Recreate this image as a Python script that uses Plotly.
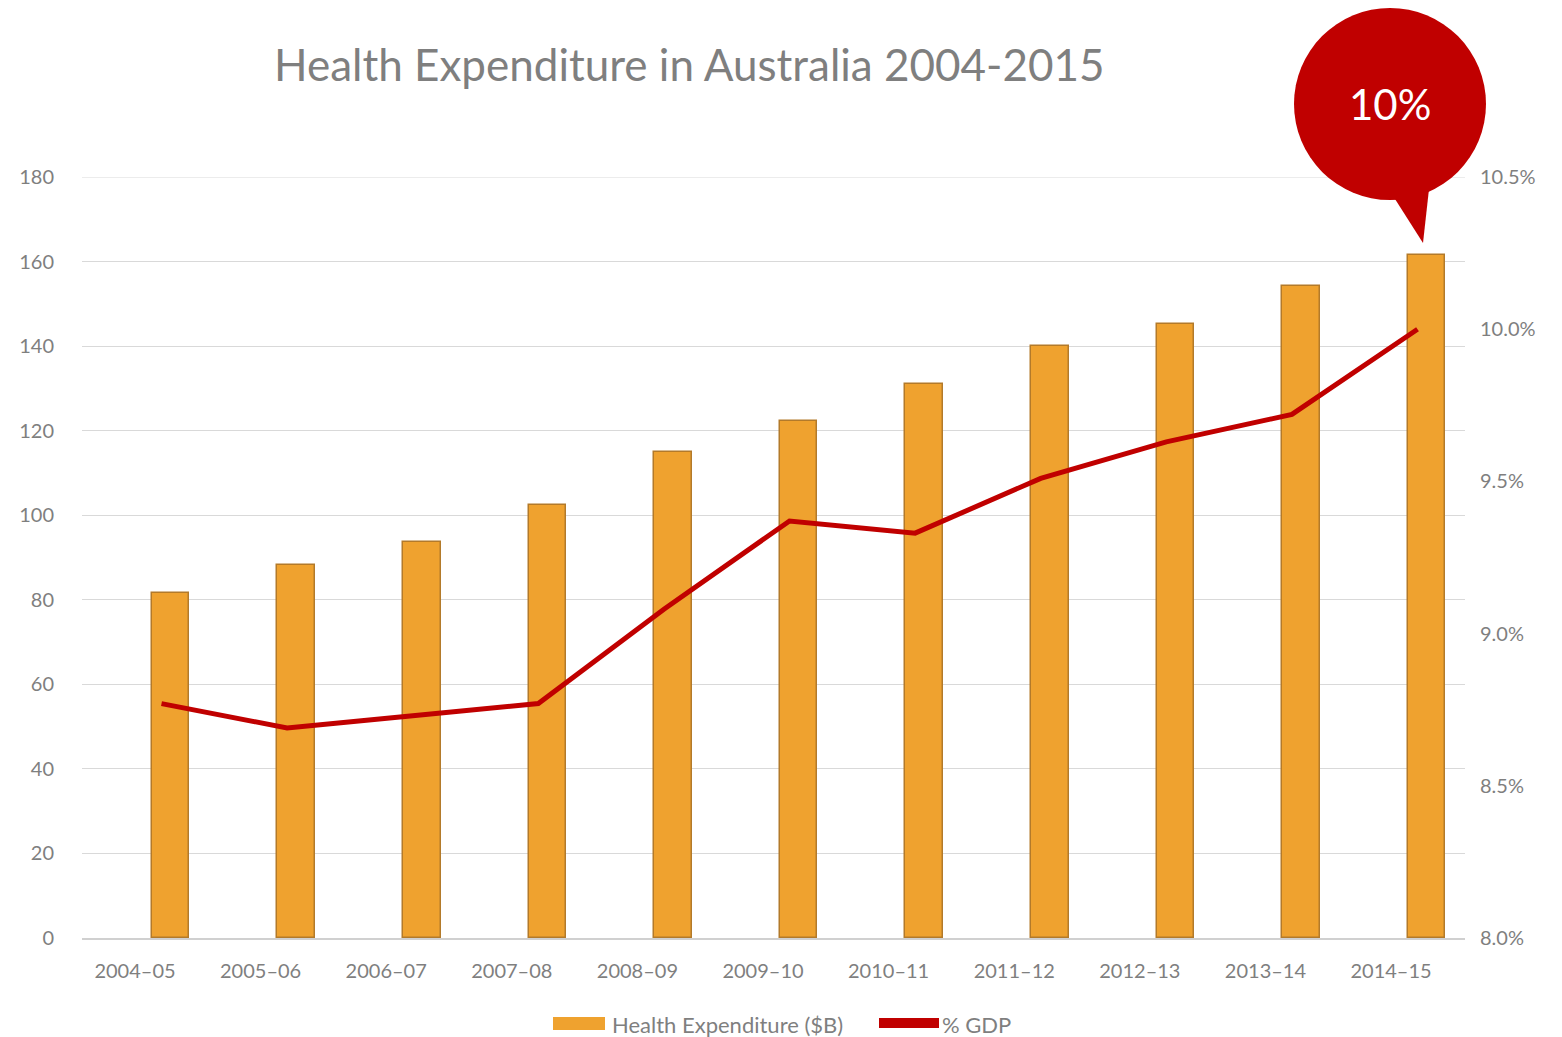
import plotly.graph_objects as go

categories = ["2004–05", "2005–06", "2006–07", "2007–08", "2008–09", "2009–10",
              "2010–11", "2011–12", "2012–13", "2013–14", "2014–15"]
health_exp_b = [81.6, 88.2, 93.7, 102.5, 115.0, 122.2, 131.1, 140.0, 145.3, 154.3, 161.5]
pct_gdp = [8.77, 8.69, 8.73, 8.77, 9.08, 9.37, 9.33, 9.51, 9.63, 9.72, 10.00]
left_ticks = [0, 20, 40, 60, 80, 100, 120, 140, 160, 180]
right_ticks = [8.0, 8.5, 9.0, 9.5, 10.0, 10.5]
title_text = "Health Expenditure in Australia 2004-2015"
callout_text = "10%"

W, H = 1562, 1037
ML, MR, MT, MB = 82, 97, 177, 99
PW, PH = W - ML - MR, H - MT - MB

def fx(px):
    return (px - ML) / PW

def fy(py):
    return (H - MB - py) / PH

FONT = "Lato, 'Open Sans', sans-serif"
GRAY = "#7f7f7f"
GRID = "#d9d9d9"
ORANGE = "#EFA22F"
ORANGE_EDGE = "#B37A2A"
RED = "#C00000"

idx = list(range(len(categories)))
bar_x = [i + 0.283 for i in idx]
line_x = [i + 0.211 for i in idx]

fig = go.Figure()
fig.add_trace(go.Bar(
    x=bar_x, y=health_exp_b, width=0.30, name="Health Expenditure ($B)",
    marker=dict(color=ORANGE, line=dict(color=ORANGE_EDGE, width=1.5)),
    showlegend=False,
))
fig.add_trace(go.Scatter(
    x=line_x, y=pct_gdp, mode="lines", name="% GDP", yaxis="y2",
    line=dict(color=RED, width=5), showlegend=False,
))

fig.update_layout(
    width=W, height=H,
    margin=dict(l=ML, r=MR, t=MT, b=MB, pad=0),
    paper_bgcolor="white", plot_bgcolor="white",
    font=dict(family=FONT, color=GRAY, size=20),
    xaxis=dict(
        range=[-0.422, 10.589], tickmode="array", tickvals=idx, ticktext=categories,
        showgrid=False, zeroline=False, showline=True, linecolor="#d0d0d0", linewidth=2,
        ticks="", ticklabelstandoff=14, tickfont=dict(size=20, color=GRAY),
    ),
    yaxis=dict(
        range=[0, 180], tickmode="array", tickvals=left_ticks,
        showgrid=True, gridcolor=GRID, gridwidth=1, zeroline=False,
        showline=False, ticks="", ticklabelstandoff=27, tickfont=dict(size=20, color=GRAY),
    ),
    yaxis2=dict(
        range=[8.0, 10.5], overlaying="y", side="right", tickmode="array",
        tickvals=right_ticks, ticktext=[f"{v:.1f}%" for v in right_ticks],
        showgrid=False, zeroline=False, showline=False, ticks="",
        ticklabelstandoff=14, tickfont=dict(size=20, color=GRAY),
    ),
    bargap=0,
)

shapes = []
annotations = []

# Top gridline (at the edge of the plot area)
shapes.append(dict(
    type="line", xref="paper", yref="y", x0=0, x1=1, y0=left_ticks[-1], y1=left_ticks[-1],
    line=dict(color=GRID, width=1), layer="below",
))

# Title
annotations.append(dict(
    text=title_text, xref="paper", yref="paper", x=fx(689), y=fy(64),
    xanchor="center", yanchor="middle", showarrow=False,
    font=dict(size=44, color=GRAY, family=FONT),
))

# Callout bubble
shapes.append(dict(
    type="circle", xref="paper", yref="paper",
    x0=fx(1294), x1=fx(1486), y0=fy(200), y1=fy(8),
    fillcolor=RED, line=dict(width=0), layer="above",
))
tail = (f"M {fx(1388)},{fy(188)} L {fx(1423)},{fy(243)} "
        f"L {fx(1430)},{fy(180)} Z")
shapes.append(dict(
    type="path", xref="paper", yref="paper", path=tail,
    fillcolor=RED, line=dict(width=0), layer="above",
))
annotations.append(dict(
    text=callout_text, xref="paper", yref="paper", x=fx(1390), y=fy(104),
    xanchor="center", yanchor="middle", showarrow=False,
    font=dict(size=42, color="white", family=FONT),
))

# Custom legend
shapes.append(dict(
    type="rect", xref="paper", yref="paper",
    x0=fx(553), x1=fx(605), y0=fy(1030), y1=fy(1017),
    fillcolor=ORANGE, line=dict(width=0),
))
annotations.append(dict(
    text="Health Expenditure ($B)", xref="paper", yref="paper", x=fx(610), y=fy(1024),
    xanchor="left", yanchor="middle", showarrow=False,
    font=dict(size=22, color=GRAY, family=FONT),
))
shapes.append(dict(
    type="rect", xref="paper", yref="paper",
    x0=fx(879), x1=fx(939), y0=fy(1028), y1=fy(1018),
    fillcolor=RED, line=dict(width=0),
))
annotations.append(dict(
    text="% GDP", xref="paper", yref="paper", x=fx(940), y=fy(1024),
    xanchor="left", yanchor="middle", showarrow=False,
    font=dict(size=22, color=GRAY, family=FONT),
))

fig.update_layout(shapes=shapes, annotations=annotations)
fig.write_html("out.html")
